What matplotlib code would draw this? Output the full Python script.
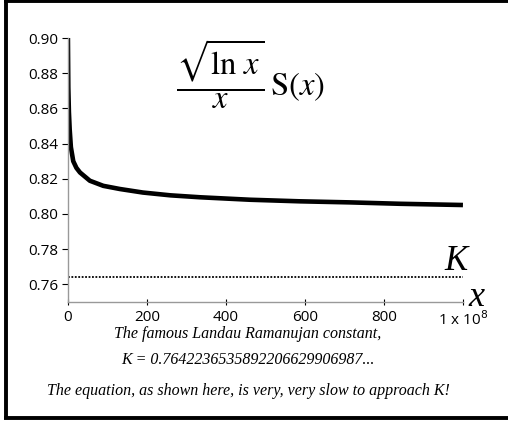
import matplotlib.pyplot as plt
from matplotlib.lines import Line2D

# curve of sqrt(ln x)/x * S(x), x in units of 1e5
xs = [0.5, 1.5, 3, 5, 8, 14, 22, 31, 56, 90, 132, 190, 260, 335, 461, 588, 714, 841, 1000]
ys = [0.900, 0.872, 0.858, 0.848, 0.838, 0.8300, 0.8262, 0.8236, 0.8189, 0.8160,
      0.8142, 0.8122, 0.8106, 0.8095, 0.8081, 0.8072, 0.8066, 0.8058, 0.8051]
K = 0.7642236535892206

x_ticks = [0, 200, 400, 600, 800, 1000]
x_labels = ['0', '200', '400', '600', '800', '1 x 10$^{8}$']
y_ticks = [0.76, 0.78, 0.80, 0.82, 0.84, 0.86, 0.88, 0.90]

caption = [
    'The famous Landau Ramanujan constant,',
    'K = 0.7642236535892206629906987...',
    'The equation, as shown here, is very, very slow to approach K!',
]

fig = plt.figure(figsize=(5.08, 4.21), dpi=100)
ax = fig.add_axes([0.1333, 0.2827, 0.778, 0.627])

ax.plot(xs, ys, color='black', lw=3.3, solid_capstyle='butt')
ax.plot([0, 1000], [K, K], color='black', lw=1.3, linestyle=(0, (1, 0.9)))

ax.set_xlim(0, 1000)
ax.set_ylim(0.75, 0.90)
ax.set_xticks(x_ticks)
ax.set_xticklabels(x_labels, fontfamily='Open Sans', fontsize=11)
ax.set_yticks(y_ticks)
ax.set_yticklabels(['%.2f' % v for v in y_ticks], fontfamily='Open Sans', fontsize=11)
ax.tick_params(axis='y', direction='out', length=4, width=0.8, pad=3)
ax.tick_params(axis='x', direction='inout', length=4, width=0.8, pad=4)

for s in ['top', 'right']:
    ax.spines[s].set_visible(False)
for s in ['left', 'bottom']:
    ax.spines[s].set_color('#999999')
    ax.spines[s].set_linewidth(1.0)

# formula and labels
fig.text(250 / 508, 1 - 74 / 421, r'$\dfrac{\sqrt{\ln\,x}}{x}\,\mathrm{S}(x)$',
         fontsize=23.5, math_fontfamily='stix', ha='center', va='center')
fig.text(456 / 508, 1 - 262 / 421, 'K', fontfamily='Liberation Serif',
         style='italic', fontsize=25, ha='center', va='center')
fig.text(476 / 508, 1 - 297 / 421, 'x', fontfamily='Liberation Serif',
         style='italic', fontsize=26, ha='center', va='center')

for yy, line in zip([334, 360, 391], caption):
    fig.text(248 / 508, 1 - yy / 421, line, fontfamily='Liberation Serif',
             style='italic', fontsize=11.5, ha='center', va='center')

# outer frame (right side cut off)
W, H = 508, 421
frame = [([5.5, 5.5], [0, 419]), ([4, 508], [1.2, 1.2]), ([4, 508], [417.6, 417.6])]
for fx, fy in frame:
    fig.lines.append(Line2D([v / W for v in fx], [1 - v / H for v in fy],
                            transform=fig.transFigure, color='black', lw=2.8,
                            solid_capstyle='butt'))

fig.savefig('out.png', dpi=100)
